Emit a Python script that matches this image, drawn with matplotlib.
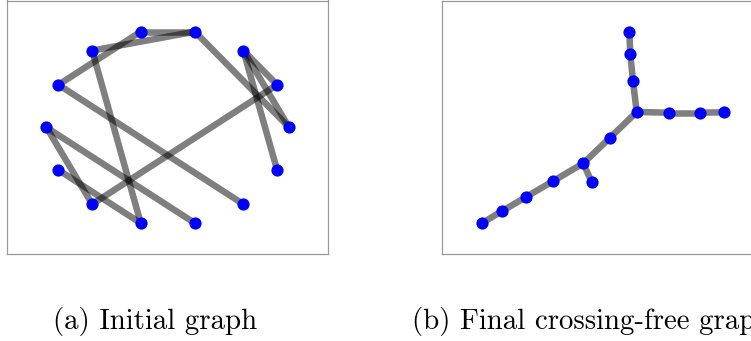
import matplotlib
matplotlib.use("Agg")
import matplotlib.pyplot as plt

# Node positions, indexed 0..13
left_x = [1.000, 0.901, 0.623, 0.223, -0.223, -0.623, -0.901,
          -1.000, -0.901, -0.623, -0.223, 0.223, 0.623, 0.901]
left_y = [0.000, 0.434, 0.782, 0.975, 0.975, 0.782, 0.434,
          0.000, -0.434, -0.782, -0.975, -0.975, -0.782, -0.434]

right_x = [167.7, 111.0, 141.0, 194.4, 190.7, 227.0, 188.0,
           59.4, 281.7, 83.7, 257.7, 39.4, 187.0, 149.4]
right_y = [116.6, 73.3, 91.0, 142.3, 173.0, 141.6, 200.3,
           43.0, 142.0, 57.3, 141.6, 31.0, 222.6, 72.3]

edges = [(4, 3), (5, 3), (6, 4), (5, 10), (3, 0), (2, 1), (2, 0),
         (2, 13), (1, 9), (6, 12), (7, 11), (7, 9), (8, 10)]

captions = ["(a) Initial graph", "(b) Final crossing-free graph"]

W, H = 751, 341
fig = plt.figure(figsize=(W / 100, H / 100), dpi=100)

def make_ax(x0, y0, w, h):
    ax = fig.add_axes([x0 / W, 1 - (y0 + h) / H, w / W, h / H])
    ax.set_xticks([])
    ax.set_yticks([])
    for s in ax.spines.values():
        s.set_color("#9a9a9a")
        s.set_linewidth(0.9)
    return ax

def draw(ax, xs, ys):
    for a, b in edges:
        ax.plot([xs[a], xs[b]], [ys[a], ys[b]], color="black", alpha=0.5,
                lw=4.7, solid_capstyle="butt", zorder=1)
    ax.plot(xs, ys, "o", color="#0000ff", ms=8.8, mew=0, zorder=2)

ax1 = make_ax(7.3, 0.5, 321, 253.8)
draw(ax1, left_x, left_y)
ax1.set_xlim(-1.323, 1.323)
ax1.set_ylim(-1.292, 1.292)

ax2 = make_ax(442.3, 0.5, 321, 253.8)
draw(ax2, right_x, right_y)
ax2.set_xlim(0, 321)
ax2.set_ylim(0, 253.8)

fig.text(53.3 / W, 1 - 329 / H, captions[0], family="cmr10", fontsize=20.8,
         ha="left", va="baseline")
fig.text(411.7 / W, 1 - 329 / H, captions[1], family="cmr10", fontsize=20.8,
         ha="left", va="baseline")

fig.savefig("out.png", dpi=100)
